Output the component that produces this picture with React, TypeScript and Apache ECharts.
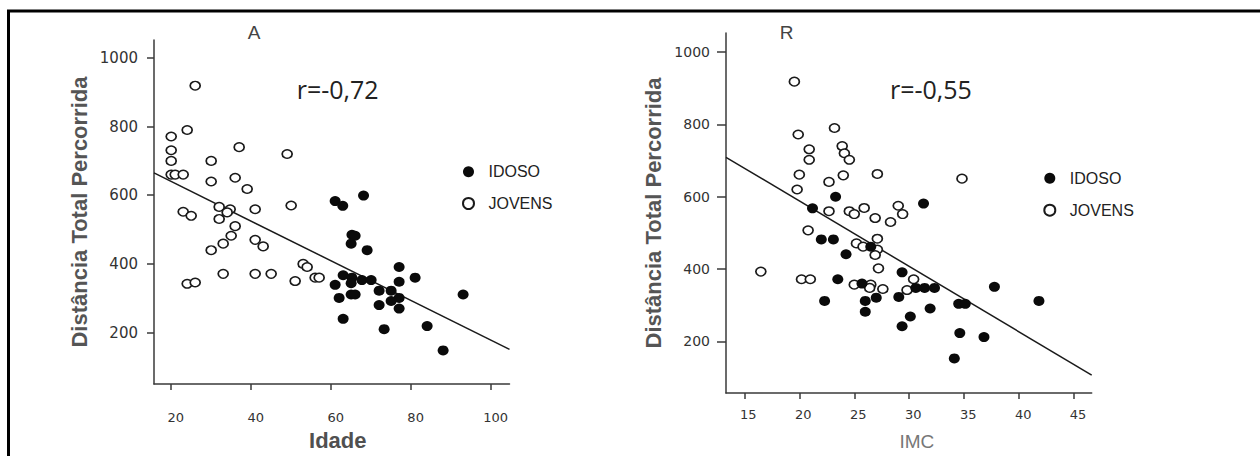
import React, { useEffect, useRef } from "react";
import * as echarts from "echarts";

// Panel A: Idade x Distância
const idosoIdade = [68.1, 61, 62.9, 65.2, 66, 65, 69, 77, 63, 65.2, 67.7, 70, 65, 61, 77, 81, 72, 75, 65, 66, 62, 77, 75, 72, 77, 63, 73.25, 84, 88, 93];
const idosoDistA = [599, 583, 569, 485, 482, 459, 440, 391, 367, 360, 353, 353, 344, 339, 348, 360, 322, 322, 311, 311, 301, 301, 292, 280, 270, 240, 210, 219, 148, 311];
const jovensIdade = [26, 24, 20, 20, 20, 20, 21, 23, 37, 30, 49, 30, 36, 39, 23, 25, 32, 34.75, 32, 34, 41, 50, 36, 35, 33, 30, 41, 43, 33, 41, 45, 24, 26, 53, 54, 51, 56, 57];
const jovensDistA = [919, 790, 771, 731, 700, 660, 660, 660, 740, 700, 720, 640, 651, 618, 552, 540, 566, 559, 531, 550, 559, 570, 510, 482, 459, 440, 470, 451, 371, 371, 371, 342, 346, 400, 391, 350, 360, 360];
const regA = [[15.7, 665], [104.6, 151]];

// Panel B: IMC x Distância
const idosoImc = [23.3, 21.2, 22.0, 23.1, 24.25, 26.5, 23.5, 22.3, 25.7, 26.0, 26.0, 27.0, 29.05, 29.35, 29.35, 31.3, 30.6, 31.4, 32.3, 31.9, 30.1, 37.75, 34.5, 35.1, 41.8, 34.6, 36.8, 34.1];
const idosoDistB = [600, 568, 482, 482, 441, 462, 372, 312, 360, 312, 282, 321, 323, 391, 242, 581, 348, 348, 348, 291, 269, 351, 304, 304, 312, 223, 212, 153];
const jovensImc = [19.55, 23.2, 19.9, 20.9, 20.9, 23.9, 24.1, 24.55, 20, 24, 27.1, 22.7, 19.8, 22.7, 24.55, 25, 25.9, 26.9, 28.3, 29, 29.4, 20.8, 25.2, 25.8, 27.1, 27.1, 26.9, 27.2, 16.5, 20.2, 21.0, 25, 26.5, 26.4, 27.6, 34.8, 30.4, 29.8];
const jovensDistB = [918, 790, 772, 731, 702, 740, 720, 702, 661, 659, 663, 641, 620, 560, 560, 552, 569, 541, 530, 575, 552, 507, 471, 462, 484, 454, 439, 402, 393, 372, 372, 357, 357, 348, 345, 650, 372, 342];
const regB = [[13.33, 709], [46.6, 107]];

const yTicks = [200, 400, 600, 800, 1000];
const xTicksA = [20, 40, 60, 80, 100];
const xTicksB = [15, 20, 25, 30, 35, 40, 45];

const zip = (xs: number[], ys: number[]) => xs.map((x, i) => [x, ys[i]]);

const axisLineStyle = { color: "#3a3a3a", width: 1.5 };
const plain = (v: number) => String(v);

export default function App() {
  const ref = useRef<HTMLDivElement>(null);
  useEffect(() => {
    if (!ref.current) return;
    const chart = echarts.init(ref.current, null, { renderer: "svg" });
    const filled = { color: "#0a0a0a", opacity: 1 };
    const open = { color: "#fff", borderColor: "#1a1a1a", borderWidth: 1.6, opacity: 1 };
    const yAxisBase = (gridIndex: number, min: number, max: number, tickLen: number) => ({
      type: "value",
      gridIndex,
      min,
      max,
      splitLine: { show: false },
      axisLine: { show: true, lineStyle: axisLineStyle },
      axisTick: { show: true, length: tickLen, lineStyle: axisLineStyle, customValues: yTicks },
      axisLabel: {
        customValues: yTicks,
        formatter: plain,
        margin: 16,
        color: "#333",
        fontFamily: "DejaVu Sans",
        fontSize: gridIndex === 0 ? 15 : 14,
      },
      name: "Distância Total Percorrida",
      nameLocation: "middle",
      nameGap: gridIndex === 0 ? 64 : 62,
      nameTextStyle: {
        fontFamily: "Liberation Sans",
        fontWeight: "bold",
        fontSize: 22,
        color: "#555",
      },
    });
    const legendBase = {
      data: ["IDOSO", "JOVENS"],
      orient: "vertical",
      itemWidth: 12,
      itemHeight: 11,
      padding: 0,
      selectedMode: false,
      textStyle: { fontFamily: "Liberation Sans", fontSize: 16, color: "#222", padding: [0, 0, 0, 9] },
    };
    const option: any = {
      animation: false,
      backgroundColor: "#fff",
      title: [
        { text: "A", left: 247.7, top: 23, padding: 0, textStyle: { fontFamily: "Liberation Sans", fontWeight: "normal", fontSize: 19, color: "#444" } },
        { text: "R", left: 779.8, top: 23, padding: 0, textStyle: { fontFamily: "Liberation Sans", fontWeight: "normal", fontSize: 19, color: "#444" } },
        { text: "r=-0,72", left: 296.7, top: 76, padding: 0, textStyle: { fontFamily: "Open Sans", fontWeight: "normal", fontSize: 25, color: "#222" } },
        { text: "r=-0,55", left: 890, top: 76, padding: 0, textStyle: { fontFamily: "Open Sans", fontWeight: "normal", fontSize: 25, color: "#222" } },
      ],
      legend: [
        { ...legendBase, left: 462, top: 163.8, itemGap: 15.7 },
        { ...legendBase, left: 1043.3, top: 170.2, itemGap: 16 },
      ],
      grid: [
        { left: 154, top: 40, width: 355.5, height: 356 },
        { left: 726, top: 33, width: 365.7, height: 365.3 },
      ],
      xAxis: [
        {
          type: "value",
          gridIndex: 0,
          min: 15.7,
          max: 104.6,
          splitLine: { show: false },
          axisLine: { show: true, lineStyle: axisLineStyle },
          axisTick: { show: true, length: 6, lineStyle: axisLineStyle, customValues: xTicksA },
          axisLabel: {
            customValues: xTicksA,
            formatter: plain,
            margin: 27,
            color: "#333",
            fontFamily: "DejaVu Sans",
            fontSize: 13,
            padding: [0, 0, 0, 9],
          },
          name: "Idade",
          nameLocation: "middle",
          nameGap: 41,
          nameTextStyle: {
            fontFamily: "Liberation Sans",
            fontWeight: "bold",
            fontSize: 22,
            color: "#505050",
            padding: [0, 0, 0, 12],
          },
        },
        {
          type: "value",
          gridIndex: 1,
          min: 13.33,
          max: 46.6,
          splitLine: { show: false },
          axisLine: { show: true, lineStyle: axisLineStyle },
          axisTick: { show: true, length: 6, lineStyle: axisLineStyle, customValues: xTicksB },
          axisLabel: {
            customValues: xTicksB,
            formatter: plain,
            margin: 15,
            color: "#333",
            fontFamily: "DejaVu Sans",
            fontSize: 13,
            padding: [0, 0, 0, 8],
          },
          name: "IMC",
          nameLocation: "middle",
          nameGap: 39,
          nameTextStyle: {
            fontFamily: "Liberation Sans",
            fontWeight: "normal",
            fontSize: 19,
            color: "#777",
            padding: [0, 0, 0, 16],
          },
        },
      ],
      yAxis: [yAxisBase(0, 50, 1052, 7), yAxisBase(1, 57.5, 1052.5, 9)],
      series: [
        {
          name: "Regressão A",
          type: "line",
          xAxisIndex: 0,
          yAxisIndex: 0,
          data: regA,
          symbol: "none",
          silent: true,
          z: 1,
          lineStyle: { color: "#1a1a1a", width: 1.5 },
        },
        {
          name: "IDOSO",
          type: "scatter",
          xAxisIndex: 0,
          yAxisIndex: 0,
          data: zip(idosoIdade, idosoDistA),
          symbol: "circle",
          symbolSize: [11, 10],
          itemStyle: filled,
          z: 3,
        },
        {
          name: "JOVENS",
          type: "scatter",
          xAxisIndex: 0,
          yAxisIndex: 0,
          data: zip(jovensIdade, jovensDistA),
          symbol: "circle",
          symbolSize: [10, 8.5],
          itemStyle: open,
          z: 2,
        },
        {
          name: "Regressão B",
          type: "line",
          xAxisIndex: 1,
          yAxisIndex: 1,
          data: regB,
          symbol: "none",
          silent: true,
          z: 1,
          lineStyle: { color: "#1a1a1a", width: 1.5 },
        },
        {
          name: "IDOSO",
          type: "scatter",
          xAxisIndex: 1,
          yAxisIndex: 1,
          data: zip(idosoImc, idosoDistB),
          symbol: "circle",
          symbolSize: [11, 10],
          itemStyle: filled,
          z: 3,
        },
        {
          name: "JOVENS",
          type: "scatter",
          xAxisIndex: 1,
          yAxisIndex: 1,
          data: zip(jovensImc, jovensDistB),
          symbol: "circle",
          symbolSize: [10, 8.5],
          itemStyle: open,
          z: 2,
        },
      ],
      graphic: [
        {
          type: "rect",
          shape: { x: 8.5, y: 11, width: 1280, height: 480 },
          style: { fill: "none", stroke: "#000", lineWidth: 3 },
          silent: true,
        },
      ],
    };
    chart.setOption(option);
    return () => chart.dispose();
  }, []);
  return (
    <div
      ref={ref}
      style={{ position: "absolute", left: 0, top: 0, width: 1260, height: 456, background: "#fff" }}
    />
  );
}
